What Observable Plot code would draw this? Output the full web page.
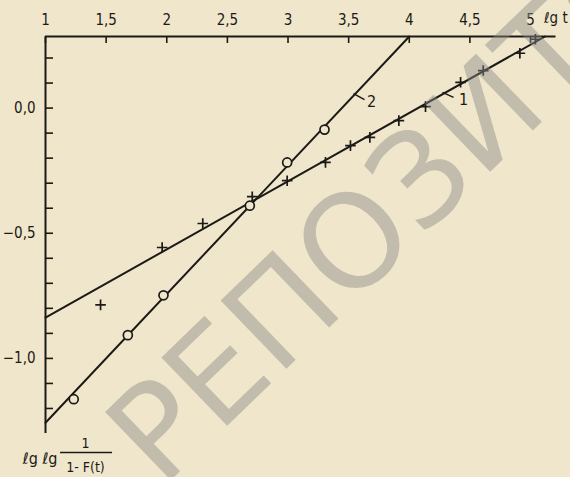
<!DOCTYPE html>
<html><head><meta charset="utf-8">
<script src="https://cdn.jsdelivr.net/npm/d3@7"></script>
<script src="https://cdn.jsdelivr.net/npm/@observablehq/plot@0.6"></script>
<style>
html,body{margin:0;padding:0;background:#efe6cb;}
#chart{position:relative;width:570px;height:477px;overflow:hidden;}
#chart svg{font-family:"DejaVu Sans Condensed","Liberation Sans Narrow","DejaVu Sans",sans-serif;}
</style></head><body><div id="chart"></div>
<script>
// x axis (lg t), ticks on top
const xTicks = [1, 1.5, 2, 2.5, 3, 3.5, 4, 4.5, 5];
const xTickLabels = ["1", "1,5", "2", "2,5", "3", "3,5", "4", "4,5", "5"];
// y axis (lg lg 1/(1-F(t)))
const yMajorTicks = [0, -0.5, -1.0];
const yMajorLabels = ["0,0", "−0,5", "−1,0"];
const yMinorTicks = [0.2, 0.1, 0, -0.1, -0.2, -0.3, -0.4, -0.5, -0.6, -0.7, -0.8, -0.9, -1.0, -1.1, -1.2];
const xDomain = [1, 5.21];
const yDomain = [-1.30, 0.286];

// series 1 (crosses) and series 2 (circles)
const crossX = [1.454, 1.962, 2.297, 2.705, 2.993, 3.309, 3.515, 3.675, 3.914, 4.134, 4.423, 4.610, 4.912, 5.04];
const crossY = [-0.786, -0.557, -0.461, -0.354, -0.290, -0.217, -0.150, -0.117, -0.050, 0.006, 0.103, 0.150, 0.219, 0.275];
const circleX = [1.233, 1.679, 1.973, 2.685, 2.993, 3.301];
const circleY = [-1.163, -0.907, -0.748, -0.390, -0.217, -0.086];

// fitted straight lines
const line1X = [1, 5.12];
const line1Y = [-0.837, 0.286];
const line2X = [1, 4.0];
const line2Y = [-1.257, 0.286];

// curve labels
const curveLabels = ["1", "2"];
const leaderX1 = [4.274, 3.540], leaderY1 = [0.063, 0.058];
const leaderX2 = [4.365, 3.631], leaderY2 = [0.043, 0.034];
const labelX = [4.447, 3.689], labelY = [0.034, 0.026];

const watermark = ["РЕПОЗИТОРИЙ"];

const ink = "#1c1a17";
const crosses = crossX.map((x, i) => ({x, y: crossY[i]}));
const circles = circleX.map((x, i) => ({x, y: circleY[i]}));
const l1 = line1X.map((x, i) => ({x, y: line1Y[i]}));
const l2 = line2X.map((x, i) => ({x, y: line2Y[i]}));
const leaders = curveLabels.map((t, i) => ({t, x1: leaderX1[i], y1: leaderY1[i], x2: leaderX2[i], y2: leaderY2[i], x: labelX[i], y: labelY[i]}));
const fmtX = d => xTickLabels[xTicks.indexOf(d)];
const fmtY = d => yMajorLabels[yMajorTicks.indexOf(d)];

const chart = Plot.plot({
  width: 570, height: 477,
  marginLeft: 45, marginRight: 14.5, marginTop: 36, marginBottom: 44,
  style: {background: "transparent", color: ink, fontSize: "15px"},
  x: {domain: xDomain},
  y: {domain: yDomain},
  marks: [
    Plot.ruleY([yDomain[1]], {stroke: ink, strokeWidth: 2}),
    Plot.ruleX([xDomain[0]], {stroke: ink, strokeWidth: 2}),
    Plot.axisX(xTicks, {anchor: "top", tickSize: -6, tickFormat: () => "", strokeWidth: 1.6, stroke: ink}),
    Plot.axisX(xTicks, {anchor: "top", tickSize: 0, tickPadding: 12, tickFormat: fmtX, fontSize: 15, fill: ink}),
    Plot.axisY(yMinorTicks, {anchor: "left", tickSize: -8, tickFormat: () => "", strokeWidth: 1.6, stroke: ink}),
    Plot.axisY(yMajorTicks, {anchor: "left", tickSize: 0, tickPadding: 10, tickFormat: fmtY, fontSize: 15, fill: ink}),
    Plot.text(["ℓg t"], {x: xDomain[1], y: yDomain[1], dx: -12, dy: -18, textAnchor: "start", fontSize: 15, fill: ink}),
    Plot.text(["ℓg ℓg"], {x: xDomain[0], y: yDomain[0], dx: 12, dy: 25, textAnchor: "end", fontSize: 16, fill: ink}),
    Plot.text(["1"], {x: xDomain[0], y: yDomain[0], dx: 40, dy: 10, fontSize: 14, fill: ink}),
    Plot.ruleY([yDomain[0]], {x1: 1.124, x2: 1.553, dy: 19, stroke: ink, strokeWidth: 1.4}),
    Plot.text(["1- F(t)"], {x: xDomain[0], y: yDomain[0], dx: 40, dy: 34, fontSize: 14, fill: ink}),
    Plot.line(l1, {x: "x", y: "y", stroke: ink, strokeWidth: 2}),
    Plot.line(l2, {x: "x", y: "y", stroke: ink, strokeWidth: 2}),
    Plot.dot(circles, {x: "x", y: "y", r: 4.5, stroke: ink, strokeWidth: 1.7, fill: "#efe6cb"}),
    Plot.dot(crosses, {x: "x", y: "y", symbol: "plus", r: 3.5, stroke: ink, strokeWidth: 1.7}),
    Plot.link(leaders, {x1: "x1", y1: "y1", x2: "x2", y2: "y2", stroke: ink, strokeWidth: 1.5}),
    Plot.text(leaders, {x: "x", y: "y", text: "t", fontSize: 16, fill: ink}),
    Plot.text(watermark, {frameAnchor: "middle", dx: -168, dy: 224, rotate: -44, textAnchor: "start", fontSize: 130, fill: "#8a8a88", fillOpacity: 0.45, fontFamily: "DejaVu Sans"})
  ]
});
document.getElementById("chart").appendChild(chart);
</script></body></html>
